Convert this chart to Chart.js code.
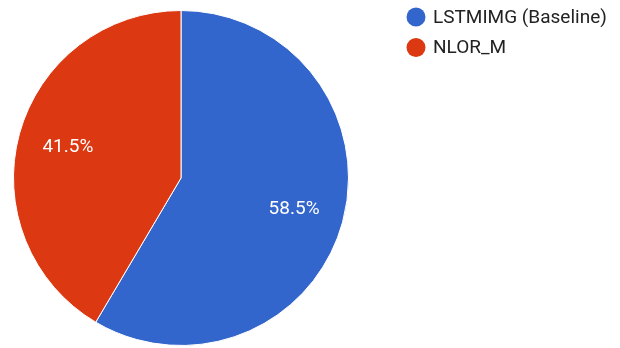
<!DOCTYPE html>
<html>
<head>
<meta charset="utf-8">
<style>
  html, body { margin: 0; padding: 0; background: #fff; }
  #wrap { width: 620px; height: 348px; position: relative; }
</style>
<script src="https://cdn.jsdelivr.net/npm/chart.js@4/dist/chart.umd.min.js"></script>
</head>
<body>
<div id="wrap"><canvas id="c" width="620" height="348"></canvas></div>
<script>
const categories = ["LSTMIMG (Baseline)", "NLOR_M"];
const shares = [58.5, 41.5];
const sliceLabels = ["58.5%", "41.5%"];
const colors = ["#3366cc", "#dc3912"];

const FONT = "Roboto, 'Liberation Sans', Arial, sans-serif";

const sliceLabelPlugin = {
  id: 'sliceLabels',
  afterDatasetsDraw(chart) {
    const ctx = chart.ctx;
    const meta = chart.getDatasetMeta(0);
    ctx.save();
    ctx.fillStyle = '#ffffff';
    ctx.font = '19px ' + FONT;
    ctx.textAlign = 'center';
    ctx.textBaseline = 'middle';
    meta.data.forEach((arc, i) => {
      const mid = (arc.startAngle + arc.endAngle) / 2;
      const r = arc.outerRadius * 0.7;
      ctx.fillText(sliceLabels[i], arc.x + Math.cos(mid) * r, arc.y + Math.sin(mid) * r);
    });
    ctx.restore();
  }
};

const legendPlugin = {
  id: 'customLegend',
  afterDraw(chart) {
    const ctx = chart.ctx;
    ctx.save();
    ctx.font = '19px ' + FONT;
    ctx.textBaseline = 'middle';
    ctx.textAlign = 'left';
    categories.forEach((name, i) => {
      const cy = 17 + i * 30.5;
      ctx.beginPath();
      ctx.arc(416, cy, 9.5, 0, Math.PI * 2);
      ctx.fillStyle = colors[i];
      ctx.fill();
      ctx.fillStyle = '#222222';
      ctx.fillText(name, 433, cy + 1);
    });
    ctx.restore();
  }
};

new Chart(document.getElementById('c'), {
  type: 'pie',
  data: {
    labels: categories,
    datasets: [{
      data: shares,
      backgroundColor: colors,
      borderColor: '#ffffff',
      borderWidth: 1
    }]
  },
  options: {
    responsive: false,
    animation: false,
    layout: { padding: { left: 13, top: 10, right: 271, bottom: 2 } },
    plugins: {
      legend: { display: false },
      tooltip: { enabled: false }
    }
  },
  plugins: [sliceLabelPlugin, legendPlugin]
});
</script>
</body>
</html>
